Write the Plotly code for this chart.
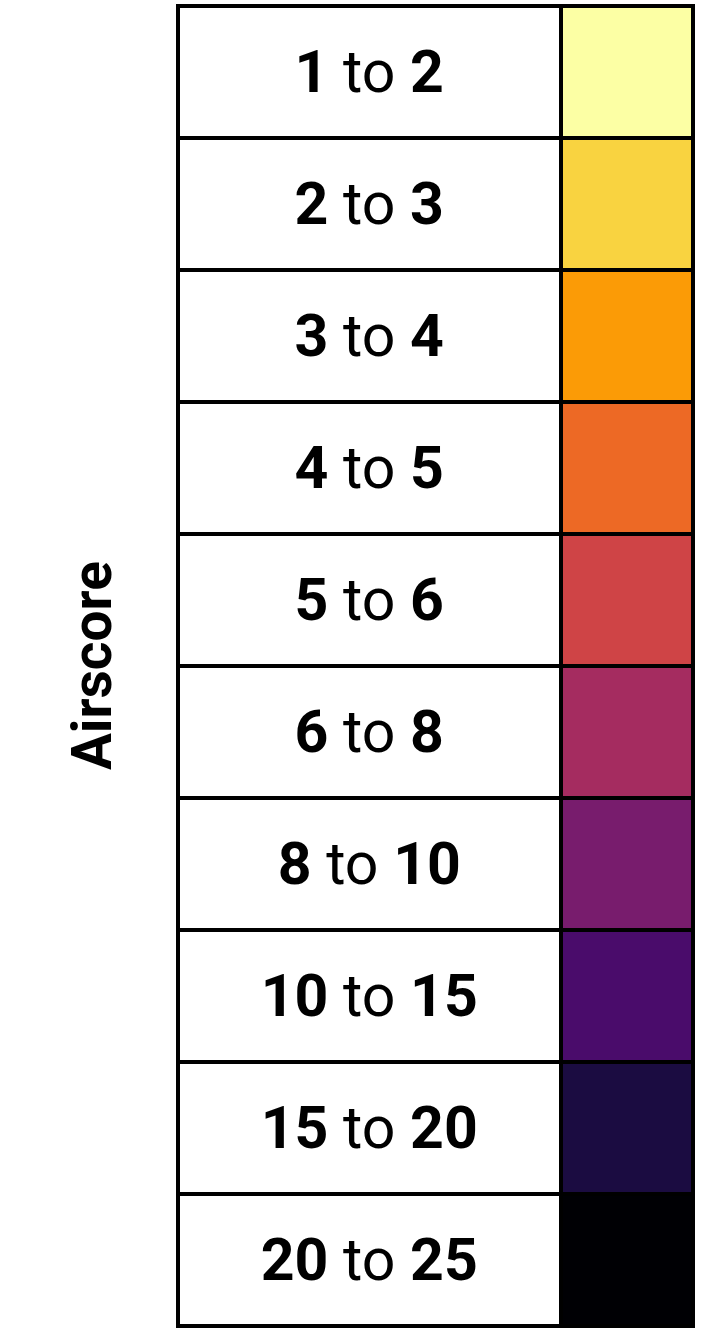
import plotly.graph_objects as go

lows = [1, 2, 3, 4, 5, 6, 8, 10, 15, 20]
highs = [2, 3, 4, 5, 6, 8, 10, 15, 20, 25]
colors = ["#FCFFA4", "#F9D340", "#FB9B06", "#ED6925", "#CF4446",
          "#A52C60", "#781C6D", "#4A0C6B", "#1B0C41", "#000004"]
title = "Airscore"

labels = [f"<b>{a}</b> to <b>{b}</b>" for a, b in zip(lows, highs)]
rows = list(range(len(lows)))

LABEL_W = 1.0
SWATCH_W = 0.346

fig = go.Figure()
fig.add_trace(go.Bar(
    y=rows, x=[LABEL_W] * len(rows), orientation="h",
    marker=dict(color="white", line=dict(color="black", width=4.5)),
    text=labels, textposition="inside", insidetextanchor="middle",
    textangle=0, constraintext="none",
    insidetextfont=dict(family="Roboto", size=59, color="black"),
    cliponaxis=False, hoverinfo="skip", showlegend=False,
))
fig.add_trace(go.Bar(
    y=rows, x=[SWATCH_W] * len(rows), orientation="h",
    marker=dict(color=colors, line=dict(color="black", width=4.5)),
    cliponaxis=False, hoverinfo="skip", showlegend=False,
))

# table frame in pixels (edges of the outer border centre line)
L, R, T, B = 178, 11.5, 6, 11.5
W, H = 705, 1338
PAD = 4  # extra pixels so the outer border stroke is not clipped
pw = W - L - R
ph = H - T - B
xspan = LABEL_W + SWATCH_W
xpad = PAD * xspan / pw
ypad = PAD * len(rows) / ph

fig.update_layout(
    width=W, height=H,
    margin=dict(l=L - PAD, r=R - PAD, t=T - PAD, b=B - PAD),
    barmode="stack", bargap=0,
    paper_bgcolor="white", plot_bgcolor="white",
    xaxis=dict(range=[-xpad, xspan + xpad], visible=False, fixedrange=True),
    yaxis=dict(range=[len(rows) - 0.5 + ypad, -0.5 - ypad], visible=False, fixedrange=True),
    annotations=[dict(
        text=f"<b>{title}</b>", textangle=-90,
        xref="paper", yref="paper",
        x=(92 - (L - PAD)) / (pw + 2 * PAD), y=0.5, xanchor="center", yanchor="middle",
        showarrow=False,
        font=dict(family="Roboto", size=55, color="black"),
    )],
)

fig.write_html("out.html")
